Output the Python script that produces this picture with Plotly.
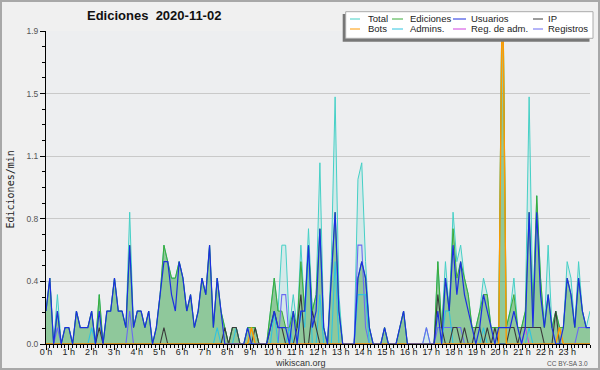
import plotly.graph_objects as go

# ---------------- data (edits per minute, 10-minute slots, 144 per day) ----------------
hour_labels = [f"{h} h" for h in range(24)]
y_tick_values = [0.0, 0.38, 0.76, 1.14, 1.52, 1.9]
y_tick_labels = ["0.0", "0.4", "0.8", "1.1", "1.5", "1.9"]

total = [
    0.2, 0.4, 0.0, 0.3, 0.0, 0.1,   # 0 h
    0.1, 0.0, 0.2, 0.1, 0.1, 0.1,   # 1 h
    0.2, 0.0, 0.3, 0.0, 0.2, 0.2,   # 2 h
    0.4, 0.2, 0.2, 0.1, 0.8, 0.1,   # 3 h
    0.2, 0.2, 0.1, 0.2, 0.0, 0.1,   # 4 h
    0.3, 0.6, 0.5, 0.4, 0.4, 0.5,   # 5 h
    0.4, 0.2, 0.3, 0.1, 0.2, 0.4,   # 6 h
    0.3, 0.6, 0.1, 0.4, 0.2, 0.1,   # 7 h
    0.0, 0.1, 0.1, 0.0, 0.0, 0.1,   # 8 h
    0.1, 0.1, 0.0, 0.0, 0.0, 0.2,   # 9 h
    0.4, 0.2, 0.6, 0.6, 0.1, 0.3,   # 10 h
    0.1, 0.6, 0.2, 0.7, 0.2, 0.3,   # 11 h
    1.1, 0.1, 0.0, 0.5, 1.5, 0.3,   # 12 h
    0.0, 0.0, 0.0, 0.0, 1.0, 1.1,   # 13 h
    0.5, 0.1, 0.0, 0.0, 0.0, 0.1,   # 14 h
    0.0, 0.0, 0.0, 0.1, 0.2, 0.0,   # 15 h
    0.0, 0.0, 0.0, 0.0, 0.1, 0.0,   # 16 h
    0.0, 0.5, 0.1, 0.5, 0.2, 0.8,   # 17 h
    0.5, 0.6, 0.4, 0.3, 0.1, 0.1,   # 18 h
    0.2, 0.4, 0.3, 0.1, 0.1, 0.1,   # 19 h
    2.4, 0.1, 0.2, 0.4, 0.1, 0.1,   # 20 h
    0.2, 1.5, 0.2, 0.9, 0.4, 0.1,   # 21 h
    0.6, 0.1, 0.2, 0.1, 0.1, 0.5,   # 22 h
    0.4, 0.1, 0.5, 0.2, 0.1, 0.2,   # 23 h
]

ediciones = [
    0.2, 0.4, 0.0, 0.2, 0.0, 0.1,
    0.1, 0.0, 0.2, 0.1, 0.1, 0.1,
    0.2, 0.0, 0.3, 0.0, 0.2, 0.2,
    0.4, 0.2, 0.2, 0.1, 0.6, 0.1,
    0.2, 0.2, 0.1, 0.2, 0.0, 0.1,
    0.3, 0.6, 0.5, 0.4, 0.4, 0.5,
    0.4, 0.2, 0.3, 0.1, 0.2, 0.4,
    0.3, 0.6, 0.1, 0.4, 0.2, 0.1,
    0.0, 0.1, 0.1, 0.0, 0.0, 0.1,
    0.1, 0.1, 0.0, 0.0, 0.0, 0.2,
    0.4, 0.2, 0.2, 0.1, 0.1, 0.2,
    0.1, 0.5, 0.2, 0.6, 0.2, 0.3,
    0.7, 0.1, 0.0, 0.4, 0.8, 0.2,
    0.0, 0.0, 0.0, 0.0, 0.4, 0.5,
    0.4, 0.1, 0.0, 0.0, 0.0, 0.1,
    0.0, 0.0, 0.0, 0.1, 0.2, 0.0,
    0.0, 0.0, 0.0, 0.0, 0.0, 0.0,
    0.0, 0.5, 0.1, 0.4, 0.2, 0.7,
    0.4, 0.5, 0.4, 0.3, 0.1, 0.1,
    0.2, 0.3, 0.3, 0.1, 0.1, 0.1,
    2.4, 0.1, 0.2, 0.3, 0.1, 0.1,
    0.2, 0.8, 0.2, 0.9, 0.4, 0.1,
    0.3, 0.1, 0.2, 0.1, 0.1, 0.4,
    0.3, 0.1, 0.4, 0.2, 0.1, 0.1,
]

usuarios = [
    0.2, 0.4, 0.0, 0.2, 0.0, 0.1,
    0.1, 0.0, 0.2, 0.1, 0.1, 0.1,
    0.2, 0.0, 0.2, 0.0, 0.2, 0.2,
    0.4, 0.2, 0.2, 0.1, 0.6, 0.1,
    0.2, 0.2, 0.1, 0.2, 0.0, 0.1,
    0.3, 0.5, 0.5, 0.3, 0.2, 0.5,
    0.4, 0.2, 0.3, 0.1, 0.2, 0.4,
    0.3, 0.6, 0.1, 0.4, 0.2, 0.0,
    0.0, 0.0, 0.0, 0.0, 0.0, 0.1,
    0.0, 0.0, 0.0, 0.0, 0.0, 0.1,
    0.2, 0.1, 0.1, 0.1, 0.0, 0.2,
    0.0, 0.2, 0.2, 0.6, 0.1, 0.2,
    0.7, 0.1, 0.0, 0.4, 0.8, 0.2,
    0.0, 0.0, 0.0, 0.0, 0.4, 0.5,
    0.4, 0.1, 0.0, 0.0, 0.0, 0.1,
    0.0, 0.0, 0.0, 0.1, 0.2, 0.0,
    0.0, 0.0, 0.0, 0.0, 0.0, 0.0,
    0.0, 0.2, 0.0, 0.4, 0.2, 0.6,
    0.3, 0.5, 0.3, 0.2, 0.1, 0.0,
    0.1, 0.3, 0.2, 0.1, 0.0, 0.1,
    0.1, 0.1, 0.1, 0.2, 0.1, 0.0,
    0.1, 0.8, 0.1, 0.8, 0.3, 0.1,
    0.3, 0.1, 0.0, 0.0, 0.1, 0.4,
    0.3, 0.1, 0.4, 0.2, 0.1, 0.1,
]

ip = [
    0.0, 0.0, 0.0, 0.0, 0.0, 0.0,
    0.0, 0.0, 0.0, 0.0, 0.0, 0.0,
    0.0, 0.0, 0.1, 0.0, 0.0, 0.0,
    0.0, 0.0, 0.0, 0.0, 0.0, 0.0,
    0.0, 0.0, 0.0, 0.0, 0.0, 0.0,
    0.0, 0.1, 0.0, 0.0, 0.0, 0.0,
    0.0, 0.0, 0.0, 0.0, 0.0, 0.0,
    0.0, 0.0, 0.0, 0.0, 0.0, 0.1,
    0.0, 0.1, 0.1, 0.0, 0.0, 0.0,
    0.0, 0.1, 0.0, 0.0, 0.0, 0.1,
    0.2, 0.1, 0.1, 0.0, 0.0, 0.0,
    0.1, 0.3, 0.0, 0.0, 0.2, 0.1,
    0.0, 0.0, 0.0, 0.0, 0.0, 0.0,
    0.0, 0.0, 0.0, 0.0, 0.0, 0.0,
    0.0, 0.0, 0.0, 0.0, 0.0, 0.0,
    0.0, 0.0, 0.0, 0.0, 0.0, 0.0,
    0.0, 0.0, 0.0, 0.0, 0.0, 0.0,
    0.0, 0.3, 0.1, 0.0, 0.0, 0.1,
    0.1, 0.0, 0.1, 0.0, 0.0, 0.1,
    0.1, 0.0, 0.1, 0.0, 0.1, 0.0,
    0.0, 0.0, 0.1, 0.1, 0.0, 0.1,
    0.1, 0.1, 0.1, 0.1, 0.1, 0.0,
    0.0, 0.0, 0.2, 0.0, 0.0, 0.0,
    0.0, 0.0, 0.0, 0.0, 0.0, 0.0,
]

bots = [
    0.0, 0.0, 0.0, 0.0, 0.0, 0.0,
    0.0, 0.0, 0.0, 0.0, 0.0, 0.0,
    0.0, 0.0, 0.0, 0.0, 0.0, 0.0,
    0.0, 0.0, 0.0, 0.0, 0.0, 0.0,
    0.0, 0.0, 0.0, 0.0, 0.0, 0.0,
    0.0, 0.0, 0.0, 0.0, 0.0, 0.0,
    0.0, 0.0, 0.0, 0.0, 0.0, 0.0,
    0.0, 0.0, 0.0, 0.0, 0.0, 0.0,
    0.0, 0.0, 0.0, 0.0, 0.0, 0.0,
    0.1, 0.0, 0.0, 0.0, 0.0, 0.0,
    0.0, 0.0, 0.0, 0.0, 0.0, 0.0,
    0.0, 0.0, 0.0, 0.0, 0.0, 0.0,
    0.0, 0.0, 0.0, 0.0, 0.0, 0.0,
    0.0, 0.0, 0.0, 0.0, 0.0, 0.0,
    0.0, 0.0, 0.0, 0.0, 0.0, 0.0,
    0.0, 0.0, 0.0, 0.0, 0.0, 0.0,
    0.0, 0.0, 0.0, 0.0, 0.0, 0.0,
    0.0, 0.0, 0.0, 0.0, 0.0, 0.0,
    0.0, 0.0, 0.0, 0.0, 0.0, 0.0,
    0.0, 0.0, 0.0, 0.0, 0.0, 0.0,
    2.3, 0.0, 0.0, 0.0, 0.0, 0.0,
    0.0, 0.0, 0.0, 0.0, 0.0, 0.0,
    0.0, 0.0, 0.0, 0.1, 0.0, 0.0,
    0.0, 0.0, 0.0, 0.0, 0.0, 0.0,
]

admins = [
    0.0, 0.0, 0.0, 0.0, 0.0, 0.0,
    0.0, 0.0, 0.0, 0.0, 0.0, 0.0,
    0.1, 0.0, 0.0, 0.0, 0.0, 0.0,
    0.0, 0.0, 0.0, 0.0, 0.0, 0.0,
    0.0, 0.0, 0.0, 0.0, 0.0, 0.0,
    0.0, 0.0, 0.0, 0.0, 0.0, 0.0,
    0.0, 0.0, 0.0, 0.0, 0.0, 0.0,
    0.0, 0.0, 0.0, 0.1, 0.0, 0.0,
    0.0, 0.0, 0.1, 0.0, 0.0, 0.0,
    0.0, 0.0, 0.0, 0.0, 0.0, 0.0,
    0.2, 0.0, 0.0, 0.0, 0.1, 0.0,
    0.0, 0.2, 0.1, 0.6, 0.0, 0.0,
    0.3, 0.0, 0.0, 0.0, 0.5, 0.0,
    0.0, 0.0, 0.0, 0.0, 0.3, 0.3,
    0.3, 0.0, 0.0, 0.0, 0.0, 0.0,
    0.0, 0.0, 0.0, 0.0, 0.0, 0.0,
    0.0, 0.0, 0.0, 0.0, 0.0, 0.0,
    0.0, 0.0, 0.0, 0.2, 0.2, 0.0,
    0.0, 0.0, 0.0, 0.0, 0.0, 0.0,
    0.0, 0.1, 0.0, 0.0, 0.0, 0.0,
    0.0, 0.0, 0.0, 0.0, 0.0, 0.0,
    0.0, 0.1, 0.0, 0.0, 0.0, 0.0,
    0.0, 0.0, 0.0, 0.0, 0.0, 0.0,
    0.0, 0.0, 0.0, 0.0, 0.0, 0.0,
]

reg_adm = [
    0.0, 0.0, 0.0, 0.0, 0.0, 0.0,
    0.0, 0.0, 0.0, 0.0, 0.0, 0.0,
    0.0, 0.0, 0.0, 0.0, 0.0, 0.0,
    0.0, 0.0, 0.0, 0.0, 0.0, 0.0,
    0.0, 0.0, 0.0, 0.0, 0.0, 0.0,
    0.0, 0.0, 0.0, 0.0, 0.0, 0.0,
    0.0, 0.0, 0.0, 0.0, 0.0, 0.0,
    0.0, 0.0, 0.0, 0.0, 0.0, 0.0,
    0.0, 0.0, 0.0, 0.0, 0.0, 0.0,
    0.0, 0.0, 0.0, 0.0, 0.0, 0.0,
    0.0, 0.0, 0.0, 0.0, 0.0, 0.0,
    0.0, 0.0, 0.0, 0.0, 0.0, 0.0,
    0.0, 0.0, 0.0, 0.0, 0.0, 0.0,
    0.0, 0.0, 0.0, 0.0, 0.0, 0.0,
    0.0, 0.0, 0.0, 0.0, 0.0, 0.0,
    0.0, 0.0, 0.0, 0.0, 0.0, 0.0,
    0.0, 0.0, 0.0, 0.0, 0.0, 0.0,
    0.0, 0.0, 0.0, 0.0, 0.0, 0.0,
    0.0, 0.0, 0.0, 0.0, 0.0, 0.0,
    0.0, 0.0, 0.0, 0.0, 0.0, 0.0,
    0.0, 0.0, 0.0, 0.0, 0.0, 0.0,
    0.1, 0.0, 0.0, 0.0, 0.0, 0.0,
    0.0, 0.0, 0.0, 0.0, 0.0, 0.0,
    0.0, 0.0, 0.0, 0.0, 0.0, 0.0,
]

registros = [
    0.0, 0.0, 0.0, 0.1, 0.0, 0.0,
    0.0, 0.0, 0.0, 0.0, 0.0, 0.0,
    0.0, 0.0, 0.0, 0.0, 0.0, 0.0,
    0.0, 0.0, 0.0, 0.0, 0.2, 0.0,
    0.0, 0.0, 0.0, 0.0, 0.0, 0.0,
    0.0, 0.0, 0.0, 0.0, 0.0, 0.0,
    0.0, 0.0, 0.0, 0.0, 0.0, 0.0,
    0.0, 0.0, 0.0, 0.0, 0.0, 0.0,
    0.0, 0.0, 0.0, 0.0, 0.0, 0.0,
    0.0, 0.0, 0.0, 0.0, 0.0, 0.0,
    0.0, 0.0, 0.3, 0.3, 0.0, 0.0,
    0.0, 0.0, 0.0, 0.0, 0.0, 0.0,
    0.0, 0.0, 0.0, 0.0, 0.0, 0.0,
    0.0, 0.0, 0.0, 0.0, 0.6, 0.6,
    0.1, 0.0, 0.0, 0.0, 0.0, 0.0,
    0.0, 0.0, 0.0, 0.0, 0.0, 0.0,
    0.0, 0.0, 0.0, 0.0, 0.1, 0.0,
    0.0, 0.1, 0.1, 0.1, 0.1, 0.1,
    0.1, 0.1, 0.0, 0.0, 0.0, 0.0,
    0.0, 0.0, 0.0, 0.0, 0.0, 0.0,
    0.0, 0.0, 0.0, 0.0, 0.0, 0.0,
    0.0, 0.0, 0.0, 0.0, 0.0, 0.0,
    0.0, 0.0, 0.0, 0.0, 0.0, 0.0,
    0.0, 0.0, 0.1, 0.1, 0.1, 0.1,
]

# slot positions in hours: 144 slots spread over the full 0-24 h axis
n = len(total)
x_hours = [i * 24 / (n - 1) for i in range(n)]

# ---------------- styling ----------------
C_TOTAL = "#45d0c6"
C_EDIC = "#3aac3a"
C_USU = "#1c2fe0"
C_IP = "#3a3a3a"
C_BOTS = "#ff9a00"
C_ADM = "#2fc4e0"
C_REGADM = "#d040e0"
C_REG = "#6a6af2"

fig = go.Figure()
fig.add_trace(go.Scatter(x=x_hours, y=total, mode="lines", name="Total",
                         line=dict(color=C_TOTAL, width=1), fill="tozeroy",
                         fillcolor="rgba(80,210,200,0.16)"))
fig.add_trace(go.Scatter(x=x_hours, y=ediciones, mode="lines", name="Ediciones",
                         line=dict(color=C_EDIC, width=1), fill="tozeroy",
                         fillcolor="rgba(60,160,60,0.45)"))
fig.add_trace(go.Scatter(x=x_hours, y=registros, mode="lines", name="Registros",
                         line=dict(color=C_REG, width=1.1)))
fig.add_trace(go.Scatter(x=x_hours, y=reg_adm, mode="lines", name="Reg. de adm.",
                         line=dict(color=C_REGADM, width=1)))
fig.add_trace(go.Scatter(x=x_hours, y=admins, mode="lines", name="Admins.",
                         line=dict(color=C_ADM, width=1.1)))
fig.add_trace(go.Scatter(x=x_hours, y=ip, mode="lines", name="IP",
                         line=dict(color=C_IP, width=1.1)))
fig.add_trace(go.Scatter(x=x_hours, y=bots, mode="lines", name="Bots",
                         line=dict(color=C_BOTS, width=1.4)))
fig.add_trace(go.Scatter(x=x_hours, y=usuarios, mode="lines", name="Usuarios",
                         line=dict(color=C_USU, width=1.2)))

# plot area in pixels
L, R, T, B = 46, 10, 31, 26
W, H = 600, 370
PW, PH = W - L - R, H - T - B


def px(xp):
    return (xp - L) / PW


def py(yp):
    return (H - B - yp) / PH


shapes = []
annotations = []

# outer border of the image
shapes.append(dict(type="rect", xref="paper", yref="paper",
                   x0=px(1), x1=px(599), y0=py(369), y1=py(1),
                   line=dict(color="#a8a8a8", width=2), layer="above"))

# legend box with shadow
shapes.append(dict(type="rect", xref="paper", yref="paper",
                   x0=px(342.7), x1=px(589.5), y0=py(41.7), y1=py(14),
                   fillcolor="#777777", line=dict(width=0), layer="above"))
shapes.append(dict(type="rect", xref="paper", yref="paper",
                   x0=px(345.7), x1=px(593), y0=py(38.3), y1=py(11.7),
                   fillcolor="#ffffff", line=dict(color="#aaaaaa", width=1), layer="above"))

legend_items = [
    ("Total", C_TOTAL, 350, 360, 366, 19),
    ("Ediciones", C_EDIC, 392, 403, 408, 19),
    ("Usuarios", C_USU, 453, 466, 469, 19),
    ("IP", C_IP, 533, 543, 546, 19),
    ("Bots", C_BOTS, 350, 360, 366, 29),
    ("Admins.", C_ADM, 392, 403, 408, 29),
    ("Reg. de adm.", C_REGADM, 453, 466, 469, 29),
    ("Registros", C_REG, 533, 543, 546, 29),
]
for name, col, lx0, lx1, tx, ly in legend_items:
    shapes.append(dict(type="line", xref="paper", yref="paper",
                       x0=px(lx0), x1=px(lx1), y0=py(ly), y1=py(ly),
                       line=dict(color=col, width=1), layer="above"))
    annotations.append(dict(text=name, xref="paper", yref="paper",
                            x=px(tx), y=py(ly), xanchor="left", yanchor="middle",
                            showarrow=False,
                            font=dict(family="Liberation Sans", size=9.5, color="#222")))

# title
annotations.append(dict(text="Ediciones\u00a0\u00a02020-11-02", xref="paper", yref="paper",
                        x=px(154), y=py(16), xanchor="center", yanchor="middle",
                        showarrow=False,
                        font=dict(family="Liberation Sans", size=13, color="#111",
                                  weight="bold")))
# y title
annotations.append(dict(text="Ediciones/min", xref="paper", yref="paper",
                        x=px(9.5), y=py(190), xanchor="center", yanchor="middle",
                        textangle=-90, showarrow=False,
                        font=dict(family="DejaVu Sans Mono", size=10, color="#222")))
# footer
annotations.append(dict(text="wikiscan.org", xref="paper", yref="paper",
                        x=px(300), y=py(362.5), xanchor="center", yanchor="middle",
                        showarrow=False,
                        font=dict(family="Liberation Sans", size=9, color="#333")))
annotations.append(dict(text="CC BY-SA 3.0", xref="paper", yref="paper",
                        x=px(590), y=py(363), xanchor="right", yanchor="middle",
                        showarrow=False,
                        font=dict(family="Liberation Sans", size=6.5, color="#555")))

fig.update_layout(
    template="none",
    width=W, height=H,
    margin=dict(l=L, r=R, t=T, b=B, pad=0, autoexpand=False),
    paper_bgcolor="#f0f0f0",
    plot_bgcolor="#edeef0",
    showlegend=False,
    font=dict(family="Liberation Sans"),
    shapes=shapes,
    annotations=annotations,
    xaxis=dict(
        range=[0, 24], tickmode="array", tickvals=list(range(24)), ticktext=hour_labels,
        ticks="outside", ticklen=5, tickcolor="#000", tickwidth=1,
        showline=True, linecolor="#000", linewidth=1, showgrid=False, zeroline=False,
        automargin=False, ticklabelstandoff=-6,
        tickfont=dict(family="Liberation Sans", size=9, color="#222"),
        minor=dict(tickmode="linear", tick0=0, dtick=1 / 6, ticks="outside",
                   ticklen=3, tickcolor="#000", showgrid=False),
        fixedrange=True,
    ),
    yaxis=dict(
        range=[0, 1.9], tickmode="array", tickvals=y_tick_values, ticktext=y_tick_labels,
        ticks="outside", ticklen=5, tickcolor="#000", tickwidth=1,
        showline=True, linecolor="#000", linewidth=1, automargin=False,
        showgrid=True, gridcolor="#c9c9c9", gridwidth=1, zeroline=False,
        tickfont=dict(family="Liberation Sans", size=8.5, color="#555"),
        minor=dict(tickmode="linear", tick0=0, dtick=0.095, ticks="outside",
                   ticklen=3, tickcolor="#000", showgrid=False),
        fixedrange=True,
    ),
)

fig.write_html("out.html", config={"displayModeBar": False},
               post_script="document.body.style.margin='0';")
